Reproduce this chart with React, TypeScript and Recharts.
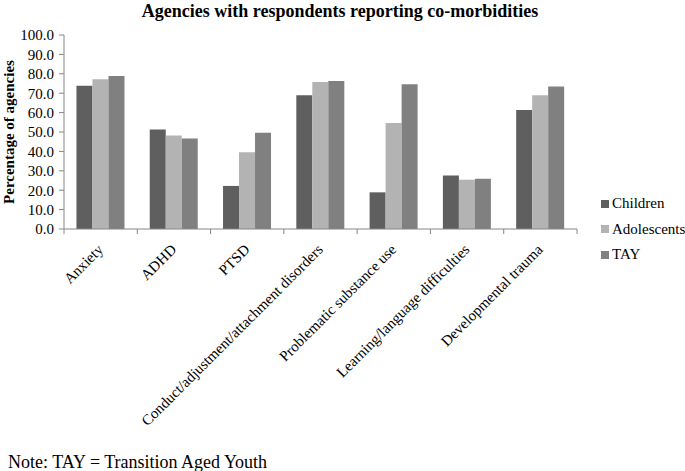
import { BarChart, Bar, XAxis, YAxis } from 'recharts'

// 各機構回報共病比例（Children / Adolescents / TAY）

const categories = [
  'Anxiety',
  'ADHD',
  'PTSD',
  'Conduct/adjustment/attachment disorders',
  'Problematic substance use',
  'Learning/language difficulties',
  'Developmental trauma',
]
const children = [73.8, 51.3, 22.2, 69.0, 18.9, 27.6, 61.3]
const adolescents = [77.2, 48.2, 39.5, 75.8, 54.6, 25.4, 69.0]
const tay = [78.9, 46.7, 49.6, 76.3, 74.6, 25.9, 73.4]
const yTicks = [0, 10, 20, 30, 40, 50, 60, 70, 80, 90, 100]

const FONT = '"Liberation Serif", "Times New Roman", serif'
const AXIS_COLOR = '#868686'
const CHILD_COLOR = '#5f5f5f'
const ADOL_COLOR = '#b3b3b3'
const TAY_COLOR = '#808080'

const series = [
  { key: 'Children', color: CHILD_COLOR },
  { key: 'Adolescents', color: ADOL_COLOR },
  { key: 'TAY', color: TAY_COLOR },
]

const chartData = categories.map((c, i) => ({
  name: c,
  Children: children[i],
  Adolescents: adolescents[i],
  TAY: tay[i],
}))

function CategoryTick(props: any) {
  const { x, y, payload, index } = props
  const half = payload?.offset ?? 36.6
  const last = index === categories.length - 1
  return (
    <g>
      <line x1={x - half} x2={x - half} y1={y} y2={y + 5} stroke={AXIS_COLOR} />
      {last && <line x1={x + half} x2={x + half} y1={y} y2={y + 5} stroke={AXIS_COLOR} />}
      <text
        transform={`translate(${x - 4}, ${y + 14}) rotate(-45)`}
        textAnchor="end"
        dy="0.7em"
        fontSize={15}
        fontFamily={FONT}
        fill="#000"
      >
        {payload.value}
      </text>
    </g>
  )
}

export default function App() {
  return (
    <div style={{ position: 'absolute', left: 0, top: 0, width: 685, height: 471, background: '#fff' }}>
      <div
        style={{
          position: 'absolute',
          top: 0,
          left: 0,
          width: 680,
          textAlign: 'center',
          fontFamily: FONT,
          fontWeight: 'bold',
          fontSize: 18,
          lineHeight: '22px',
        }}
      >
        Agencies with respondents reporting co-morbidities
      </div>
      <BarChart
        width={685}
        height={471}
        data={chartData}
        margin={{ top: 35, right: 108, left: 0, bottom: 12 }}
        barCategoryGap="17%"
        barGap={0}
      >
        <XAxis
          dataKey="name"
          interval={0}
          height={230}
          tickSize={0}
          tickMargin={0}
          tickLine={false}
          axisLine={{ stroke: AXIS_COLOR }}
          tick={<CategoryTick />}
        />
        <YAxis
          width={64}
          domain={[0, 100]}
          ticks={yTicks}
          interval={0}
          tickFormatter={(v: number) => v.toFixed(1)}
          tickSize={5}
          tickMargin={5}
          axisLine={{ stroke: AXIS_COLOR }}
          tickLine={{ stroke: AXIS_COLOR }}
          tick={{ fontSize: 15, fontFamily: FONT, fill: '#000' }}
          label={({ viewBox }: any) => (
            <text
              transform={`translate(14, ${viewBox.y + viewBox.height / 2}) rotate(-90)`}
              textAnchor="middle"
              fontSize={15}
              fontWeight="bold"
              fontFamily={FONT}
              fill="#000"
            >
              Percentage of agencies
            </text>
          )}
        />
        {series.map((s) => (
          <Bar key={s.key} dataKey={s.key} fill={s.color} isAnimationActive={false} />
        ))}
      </BarChart>
      <div style={{ position: 'absolute', left: 601, top: 191, fontFamily: FONT, fontSize: 15, color: '#000' }}>
        {series.map((s) => (
          <div key={s.key} style={{ display: 'flex', alignItems: 'center', height: 25.5 }}>
            <span style={{ width: 8, height: 8, background: s.color, marginRight: 3, display: 'inline-block' }} />
            <span>{s.key}</span>
          </div>
        ))}
      </div>
      <div
        style={{
          position: 'absolute',
          left: 8,
          top: 451,
          fontFamily: FONT,
          fontSize: 18,
          lineHeight: '22px',
          whiteSpace: 'nowrap',
        }}
      >
        Note: TAY = Transition Aged Youth
      </div>
    </div>
  )
}
